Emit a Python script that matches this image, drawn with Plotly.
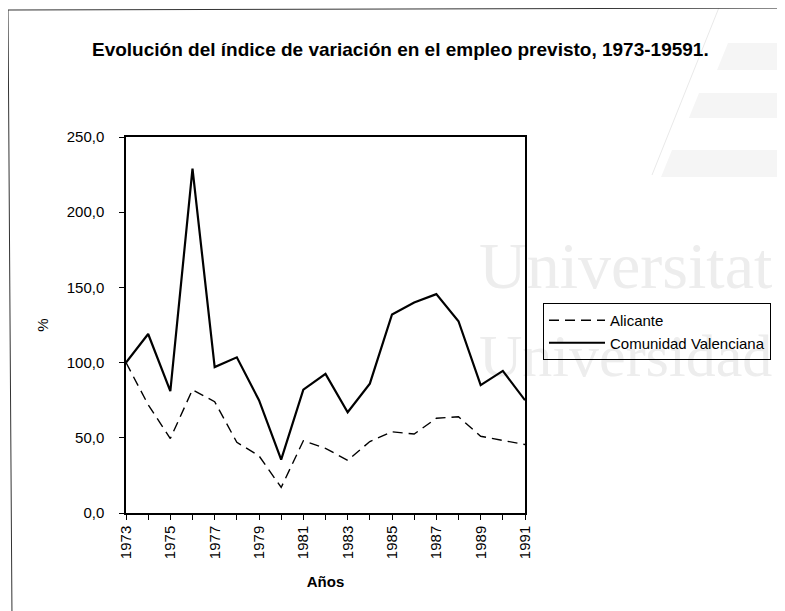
import plotly.graph_objs as go

# datos
years = list(range(1973, 1992))
alicante = [100, 72, 49.5, 82, 74, 47, 38, 17, 48, 43, 35, 47.5, 54, 52.5, 63, 64, 51, 48, 45.5]
comunidad = [100, 119, 81, 229, 97, 103.5, 75, 35.5, 82, 92.5, 67, 86, 132, 140, 145.5, 127.5, 85, 94.5, 75]
series_names = ['Alicante', 'Comunidad Valenciana']
y_ticks = [0, 50, 100, 150, 200, 250]

W, H = 785, 611
OFF = 8  # the page body margin shifts the figure by this much
# plot area, in page pixels
X0, X1, Y0, Y1 = 126, 525, 137, 513


def px(x):
    return (x - X0) / (X1 - X0)


def py(y):
    return (Y1 - y) / (Y1 - Y0)


FONT = 'Liberation Sans, Arial, sans-serif'
WM = '#ededed'

fig = go.Figure()
fig.add_trace(go.Scatter(
    x=years, y=alicante, name=series_names[0], mode='lines',
    line=dict(color='black', width=1.4, dash='10px,6px'),
))
fig.add_trace(go.Scatter(
    x=years, y=comunidad, name=series_names[1], mode='lines',
    line=dict(color='black', width=2.2),
))

shapes = []
# watermark text
for txt, top, bot, size in [('Universitat', 228, 288, 66), ('Universidad', 319, 378, 60)]:
    shapes.append(dict(
        type='rect', xref='paper', yref='paper', layer='below',
        x0=px(476), x1=px(780), y0=py(bot), y1=py(top),
        line=dict(width=0), fillcolor='rgba(0,0,0,0)',
        label=dict(text=txt, textposition='middle left', padding=0,
                   font=dict(family='Liberation Serif, Times New Roman, serif', size=size, color=WM)),
    ))

# faint logo in the corner
def para(xl_top, y_top, y_bot, slope=0.405):
    xl_bot = xl_top - slope * (y_bot - y_top)
    return (f'M{px(xl_top)},{py(y_top)} L{px(800)},{py(y_top)} '
            f'L{px(800)},{py(y_bot)} L{px(xl_bot)},{py(y_bot)} Z')

for xl, yt, yb in [(728, 43, 70), (699, 93, 118), (672, 150, 177)]:
    shapes.append(dict(type='path', xref='paper', yref='paper', layer='below',
                       path=para(xl, yt, yb), fillcolor='#f5f5f5', line=dict(width=0)))
shapes.append(dict(type='line', xref='paper', yref='paper', layer='below',
                   x0=px(722), y0=py(0), x1=px(652), y1=py(175),
                   line=dict(color='#e9e9e9', width=1)))

# page frame
shapes.append(dict(type='line', xref='paper', yref='paper',
                   x0=px(8), y0=py(10), x1=px(800), y1=py(8),
                   line=dict(color='#333', width=1)))
shapes.append(dict(type='line', xref='paper', yref='paper',
                   x0=px(8), y0=py(10), x1=px(12), y1=py(620),
                   line=dict(color='#333', width=1)))

fig.update_layout(
    width=W, height=H,
    margin=dict(l=X0 - OFF, r=W - X1 + OFF, t=Y0 - OFF, b=H - Y1 + OFF, pad=0),
    paper_bgcolor='white', plot_bgcolor='rgba(0,0,0,0)',
    separators=',.',
    font=dict(family=FONT, color='black', size=15),
    showlegend=True,
    legend=dict(
        x=px(543), y=py(303), xanchor='left', yanchor='top',
        bordercolor='black', borderwidth=1, bgcolor='rgba(0,0,0,0)',
        font=dict(size=15), itemwidth=56, tracegroupgap=0,
    ),
    shapes=shapes,
    annotations=[dict(
        text='<b>Evolución del índice de variación en el empleo previsto, 1973-19591.</b>',
        xref='paper', yref='paper', x=px(400), y=py(50),
        xanchor='center', yanchor='middle', showarrow=False,
        font=dict(size=19, family=FONT),
    )],
)

fig.update_xaxes(
    range=[1973, 1991], tickmode='linear', tick0=1973, dtick=2,
    tickangle=-90, ticks='outside', ticklen=5, tickcolor='black',
    minor=dict(dtick=1, tick0=1973, ticks='outside', ticklen=5, tickcolor='black', showgrid=False),
    showline=True, linecolor='black', linewidth=1.5, mirror=True,
    showgrid=False, zeroline=False,
    title=dict(text='<b>Años</b>', standoff=18, font=dict(size=15)),
)
fig.update_yaxes(
    range=[0, 250], tickvals=y_ticks, tickformat='.1f',
    ticks='outside', ticklen=5, tickcolor='black', ticklabelstandoff=12,
    showline=True, linecolor='black', linewidth=1.5, mirror=True,
    showgrid=False, zeroline=False,
    title=dict(text='%', standoff=14, font=dict(size=15)),
)

fig.write_html('out.html')
